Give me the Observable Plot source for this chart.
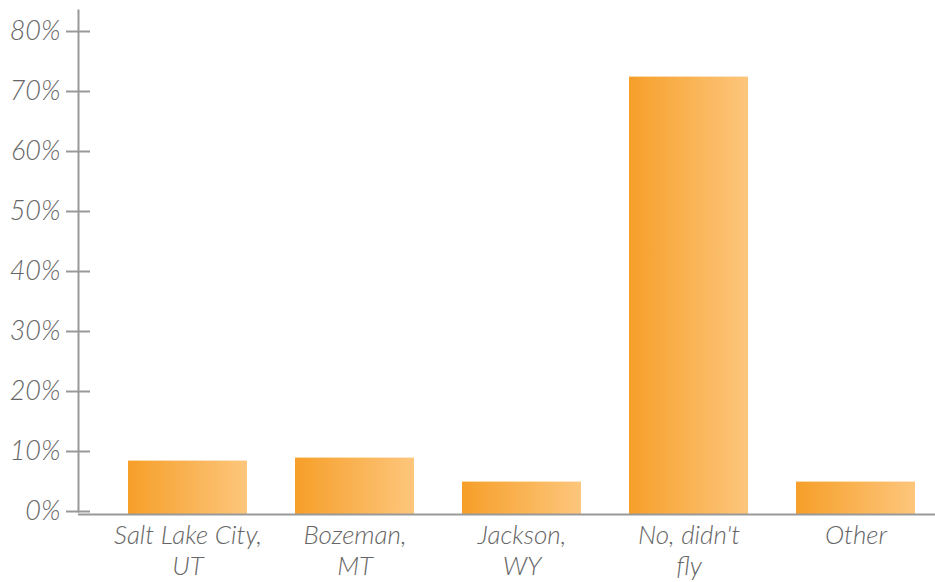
<!DOCTYPE html>
<html><head><meta charset="utf-8">
<script src="https://cdn.jsdelivr.net/npm/d3@7"></script>
<script src="https://cdn.jsdelivr.net/npm/@observablehq/plot@0.6"></script>
<style>
body{margin:0;background:#fff}
#chart svg text{font-family:Lato,"Open Sans",sans-serif;font-style:italic;font-weight:300}
</style>
</head><body><div id="chart"></div>
<script>
const categories = ["Salt Lake City,\nUT", "Bozeman,\nMT", "Jackson,\nWY", "No, didn't\nfly", "Other"];
const values = [8.4, 8.9, 4.9, 72.4, 4.9];
const yTicks = [0, 10, 20, 30, 40, 50, 60, 70, 80];

const data = categories.map((c, i) => ({category: c, value: values[i]}));

const chart = Plot.plot({
  width: 935,
  height: 582,
  marginLeft: 78,
  marginRight: 0,
  marginTop: 10,
  marginBottom: 71,
  style: {fontSize: "27px", color: "#666", background: "#fff"},
  x: {domain: categories, range: [104.5, 939.5], paddingInner: 0.287, paddingOuter: 0.1435, axis: null},
  y: {domain: [0, 83.5], axis: null},
  marks: [
    Plot.barY(data, {x: "category", y: "value", fill: "url(#barGrad)", insetBottom: -3}),
    Plot.ruleY([0], {stroke: "#999", strokeWidth: 2, dy: 3}),
    Plot.frame({anchor: "left", stroke: "#999", strokeWidth: 2}),
    Plot.axisY({ticks: yTicks, tickSize: 24, dx: 12, tickPadding: 6, stroke: "#999", strokeWidth: 2, tickFormat: d => d + "%", fill: "#666", fontSize: 27, label: null}),
    Plot.text(categories, {x: d => d, frameAnchor: "bottom", lineAnchor: "top", dy: 10, lineHeight: 1.2, fill: "#666", fontSize: 26})
  ]
});

const svg = d3.select(chart);
const defs = svg.insert("defs", ":first-child");
const g = defs.append("linearGradient").attr("id", "barGrad").attr("x1", "0").attr("x2", "1").attr("y1", "0").attr("y2", "0");
g.append("stop").attr("offset", "0").attr("stop-color", "#F69F29");
g.append("stop").attr("offset", "1").attr("stop-color", "#FDC67C");

document.getElementById("chart").appendChild(chart);
</script>
</body></html>
